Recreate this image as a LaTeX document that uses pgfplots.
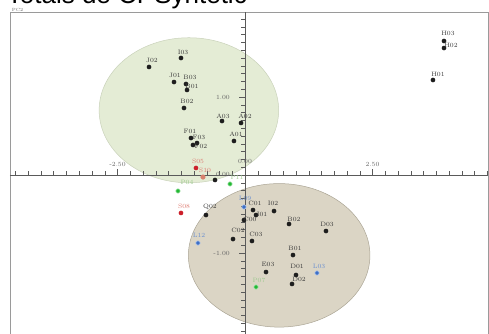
\documentclass[border=0pt]{standalone}
\usepackage{fontspec}
\usepackage{pgfplots}
\usepackage{pgfplotstable}
\pgfplotsset{compat=1.18}
\newfontfamily\titlefont{Liberation Sans}
\definecolor{ptblack}{HTML}{1E1E1E}
\definecolor{lblblack}{HTML}{3A3A3A}
\definecolor{ellg}{HTML}{E4ECD5}
\definecolor{ellgedge}{HTML}{C9D2BA}
\definecolor{ellb}{HTML}{DBD5C5}
\definecolor{ellbedge}{HTML}{ABA595}
\definecolor{framegray}{HTML}{9A9A9A}
\definecolor{axgray}{HTML}{5A5A5A}
\definecolor{ticklbl}{HTML}{666666}
\definecolor{ptred}{HTML}{CC1F2A}
\definecolor{ptsalmon}{HTML}{D8806E}
\definecolor{lblred}{HTML}{DD7A70}
\definecolor{ptgreen}{HTML}{22B833}
\definecolor{lblgreen}{HTML}{9CC98E}
\definecolor{ptblue}{HTML}{3D6FC6}
\definecolor{lblblue}{HTML}{6A8FD0}
\newcommand{\lbl}{\fontsize{6.3}{7}\selectfont}
\newcommand{\tkl}{\fontsize{6.3}{7}\selectfont}
\pgfplotsset{
  pcastyle/.style={scale only axis, x=51pt, y=78pt,
    xmin=-4.608, xmax=4.765, ymin=-2.09, ymax=2.09,
    at={(0pt,0pt)}, anchor=origin, clip=false},
  lblplot/.style={only marks, mark=*, point meta=explicit symbolic,
    nodes near coords,
    visualization depends on={\thisrow{dx}\as\dx},
    visualization depends on={\thisrow{dy}\as\dy},
    every node near coord/.append style={font=\lbl, text=#1, anchor=center,
      inner sep=0pt, xshift=\dx pt, yshift=\dy pt}},
}
\pgfplotstableread{
x y label dx dy
-1.255 1.500 I03 2 6
-1.882 1.385 J02 3 7
-1.392 1.192 J01 1 7
-1.157 1.167 B03 4 7
-1.137 1.090 B01 5 4
-1.196 0.859 B02 3 7
-0.451 0.692 A03 1 5
-0.078 0.667 A02 4 7
-0.216 0.436 A01 2 7
-1.059 0.474 F01 -1 7
-0.941 0.410 F03 2 6
-1.020 0.385 F02 8 -1
3.902 1.718 H03 4 8
3.902 1.628 H02 7 3
3.686 1.218 H01 5 6
-0.765 -0.513 Q02 4 8
0.157 -0.449 C01 2 7
0.216 -0.513 I01 6 1
0.569 -0.462 I02 -1 8
-0.020 -0.577 C00 6 1
-0.235 -0.821 C02 5 9
0.137 -0.846 C03 4 7
0.412 -1.244 E03 2 8
0.863 -0.628 B02 5 5
1.588 -0.718 D03 1 7
0.941 -1.026 B01 2 7
1.000 -1.282 D01 1 9
0.922 -1.397 D02 7 5
}\blackpts
\pgfplotstableread{
x y label dx dy
-0.961 0.090 S05 2 7
-1.255 -0.487 S08 3 7
}\redpts
\pgfplotstableread{
x y label dx dy
-0.824 -0.026 S10 2 7
}\salmonpts
\pgfplotstableread{
x y label dx dy
-1.314 -0.205 P04 9 9
-0.294 -0.115 P11 7 7
0.216 -1.436 P07 3 7
}\greenpts
\pgfplotstableread{
x y label dx dy
-0.020 -0.410 L09 1 9
-0.922 -0.872 L12 1 8
1.412 -1.256 L03 2 7
}\bluepts
\begin{document}
\begin{tikzpicture}
\begin{axis}[pcastyle, axis line style={framegray, line width=0.8pt},
  xtick=\empty, ytick=\empty]
  \fill[ellg, draw=ellgedge, line width=0.5pt] (axis cs:-1.10,0.83) ellipse [x radius=1.76, y radius=0.93];
  \fill[ellb, draw=ellbedge, line width=0.5pt] (axis cs:0.67,-1.03) ellipse [x radius=1.78, y radius=0.92];
  \node[anchor=south west, inner sep=0.6pt, xshift=1pt, font=\fontsize{4.5}{5}\selectfont, text=ticklbl] at (rel axis cs:0,1) {PC2};
\end{axis}
\begin{axis}[pcastyle, axis lines=middle, axis line style={axgray, line width=0.7pt, -},
  xtick={-2.5,0,2.5}, minor xtick={-4.5,-4.25,...,4.75},
  ytick={-1,0,1}, minor ytick={-2,-1.9,...,2.01},
  tick align=center, major tick length=6pt, minor tick length=3.6pt,
  tick style={axgray, line width=0.5pt},
  major x tick style={yshift=3pt}, minor x tick style={yshift=1.8pt},
  major y tick style={xshift=-3pt}, minor y tick style={xshift=-1.8pt},
  x tick label style={anchor=south, inner sep=0pt, yshift=11pt, font=\tkl, text=ticklbl},
  y tick label style={anchor=east, inner sep=0pt, xshift=-12pt, font=\tkl, text=ticklbl},
  /pgf/number format/.cd, fixed, fixed zerofill, precision=2, assume math mode=true]
  \node[anchor=south, inner sep=0pt, yshift=11pt, font=\tkl, text=ticklbl] at (axis cs:0,0) {0.00};
  \node[anchor=east, inner sep=0pt, xshift=-15pt, yshift=1pt, font=\tkl, text=ticklbl] at (axis cs:0,0) {0.00};
  \addplot[lblplot=lblblack, mark size=2.1pt, mark options={draw=ptblack, fill=ptblack}] table[x=x, y=y, meta=label] {\blackpts};
  \addplot[only marks, mark=*, mark size=2.1pt, mark options={draw=ptblack, fill=ptblack}] coordinates {(-0.588,-0.064)};
  \addplot[lblplot=lblred, mark size=2.1pt, mark options={draw=ptred, fill=ptred}] table[x=x, y=y, meta=label] {\redpts};
  \addplot[lblplot=lblred, mark size=2.3pt, mark options={draw=ptsalmon, fill=ptsalmon}] table[x=x, y=y, meta=label] {\salmonpts};
  \addplot[lblplot=lblgreen, mark size=2.2pt, mark options={draw=ptgreen!40, line width=0.6pt, fill=ptgreen}] table[x=x, y=y, meta=label] {\greenpts};
  \addplot[lblplot=lblblue, mark size=2.2pt, mark options={draw=ptblue!40, line width=0.6pt, fill=ptblue}] table[x=x, y=y, meta=label] {\bluepts};
\end{axis}
\node[anchor=base east, inner sep=0pt, font=\titlefont\fontsize{26}{28}\selectfont] at (2pt,172pt) {Totals de CPSyntetic};
\pgfresetboundingbox
\path[use as bounding box] (-245pt,-158pt) rectangle (244pt,175pt);
\end{tikzpicture}
\end{document}
